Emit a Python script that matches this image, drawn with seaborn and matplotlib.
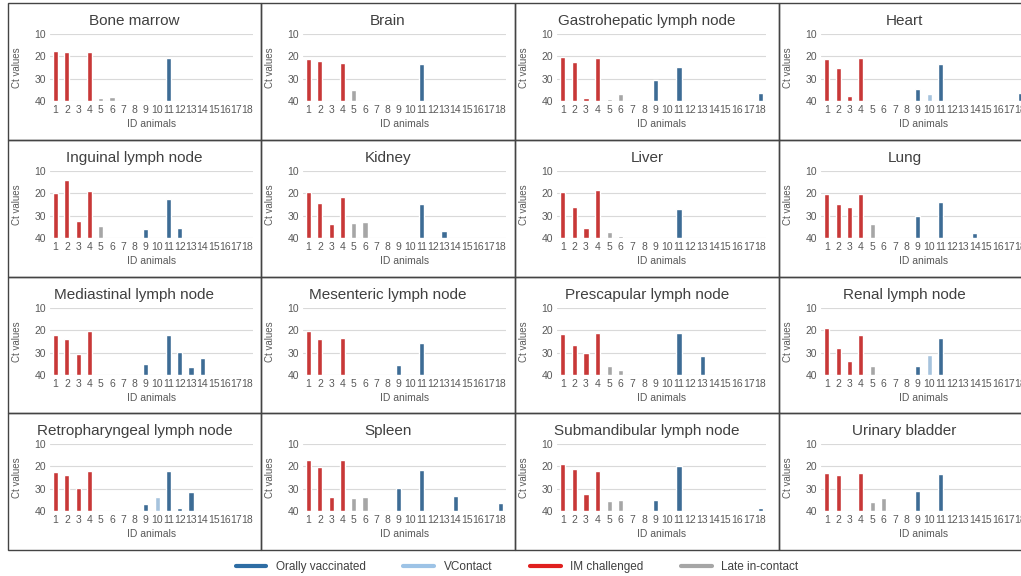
import seaborn as sns
import pandas as pd
import numpy as np
import matplotlib.pyplot as plt
from matplotlib.lines import Line2D
from matplotlib.patches import Rectangle

# data: Ct values per animal (None = no bar)
N = None
animals = [str(i) for i in range(1, 19)]
groups = (["IM challenged"] * 4 + ["Late in-contact"] * 4
          + ["Orally vaccinated", "VContact"] + ["Orally vaccinated"] * 8)

organs = ["Bone marrow", "Brain", "Gastrohepatic lymph node", "Heart",
          "Inguinal lymph node", "Kidney", "Liver", "Lung",
          "Mediastinal lymph node", "Mesenteric lymph node", "Prescapular lymph node", "Renal lymph node",
          "Retropharyngeal lymph node", "Spleen", "Submandibular lymph node", "Urinary bladder"]

bone_marrow = [17.5, 18.2, N, 18.0, 38.6, 38.0, N, N, N, N, 20.8, N, N, N, N, N, N, N]
brain = [21.2, 22.2, N, 22.8, 35.0, N, N, N, N, N, 23.3, N, N, N, N, N, N, N]
gastrohepatic = [20.5, 22.7, 38.8, 20.8, 39.0, 36.7, N, N, 30.4, N, 24.8, N, N, N, N, N, N, 36.2]
heart = [21.0, 25.3, 37.7, 20.6, N, N, N, N, 34.7, 36.7, 23.3, N, N, 39.4, N, N, N, 36.4]
inguinal = [19.7, 14.0, 32.5, 18.9, 34.7, N, N, N, 36.1, N, 22.7, 35.5, N, N, N, N, N, N]
kidney = [19.5, 24.3, 33.8, 21.5, 33.4, 32.9, N, N, N, N, 24.8, N, 36.9, N, N, N, N, N]
liver = [19.4, 25.9, 35.4, 18.4, 37.1, 39.0, N, N, N, N, 27.1, N, N, N, N, N, N, N]
lung = [20.2, 24.8, 25.9, 20.3, 33.9, N, N, N, 30.0, N, 24.1, N, N, 37.6, N, N, N, N]
mediastinal = [22.3, 23.8, 30.5, 20.2, N, N, N, N, 35.1, N, 22.0, 29.7, 36.2, 32.3, N, N, N, N]
mesenteric = [20.3, 24.0, N, 23.3, N, N, N, N, 35.3, N, 25.5, N, N, N, N, N, N, N]
prescapular = [21.8, 26.5, 30.0, 21.0, 35.8, 37.7, N, N, N, N, 21.0, N, 31.5, N, N, N, N, N]
renal = [19.1, 27.7, 33.9, 22.1, 35.8, N, N, N, 35.8, 30.9, 23.6, N, N, N, N, N, N, N]
retropharyngeal = [22.4, 23.8, 29.5, 22.0, N, N, N, N, 36.7, 33.8, 22.0, 38.5, 31.4, N, N, N, N, N]
spleen = [17.0, 20.5, 33.8, 17.0, 34.3, 33.8, N, N, 29.5, N, 21.8, 39.5, N, 33.3, N, N, N, 36.2]
submandibular = [19.0, 21.0, 32.4, 21.9, 35.7, 35.2, N, N, 35.2, N, 19.8, N, N, N, N, N, N, 38.6]
urinary_bladder = [23.0, 24.0, N, 23.0, 36.0, 34.0, N, N, 31.0, N, 23.5, N, N, N, N, N, N, N]

organ_values = [bone_marrow, brain, gastrohepatic, heart, inguinal, kidney, liver, lung,
                mediastinal, mesenteric, prescapular, renal,
                retropharyngeal, spleen, submandibular, urinary_bladder]

palette = {"Orally vaccinated": "#2e6da4", "VContact": "#9dc3e6",
           "IM challenged": "#e0201f", "Late in-contact": "#a6a6a6"}

sns.set_theme(style="white")
plt.rcParams['font.family'] = ['Liberation Sans', 'DejaVu Sans']

W, H = 1021, 576
fig = plt.figure(figsize=(W / 100, H / 100), dpi=100)

col_left = [8, 261, 515, 779]
col_right = [261, 515, 779, 1030]
row_top = [3, 140, 277, 413]
row_bot = [140, 277, 413, 550]
ax_w = [203, 203, 209, 205]

for k, (organ, vals) in enumerate(zip(organs, organ_values)):
    r, c = divmod(k, 4)
    # panel box
    fig.add_artist(Rectangle((col_left[c] / W, 1 - row_bot[r] / H),
                             (col_right[c] - col_left[c]) / W, (row_bot[r] - row_top[r]) / H,
                             fill=False, edgecolor="#444444", lw=1.0, transform=fig.transFigure))
    left = col_left[c] + 42
    top = row_top[r] + 31
    ax = fig.add_axes([left / W, 1 - (top + 67) / H, ax_w[c] / W, 67 / H])

    df = pd.DataFrame({"animal": animals, "ct": vals, "group": groups}).dropna()
    df["height"] = df["ct"] - 40
    sns.barplot(data=df, x="animal", y="height", hue="group", palette=palette,
                order=animals, width=0.45, bottom=40, legend=False, ax=ax)

    ax.set_ylim(40, 10)
    ax.set_yticks([10, 20, 30, 40])
    ax.yaxis.grid(True, color="#d9d9d9", lw=0.8)
    ax.set_axisbelow(True)
    for s in ax.spines.values():
        s.set_visible(False)
    ax.tick_params(axis="both", length=0, labelsize=7.5, labelcolor="#595959", pad=3)
    ax.set_xlabel("ID animals", fontsize=7.5, color="#595959", labelpad=3)
    ax.set_ylabel("Ct values", fontsize=7, color="#595959")
    ax.yaxis.set_label_coords(-28 / ax_w[c], 0.5)
    # title centred on the panel box
    cx = (col_left[c] + min(col_right[c], 1031)) / 2
    fig.text(cx / W, 1 - (row_top[r] + 18) / H, organ, ha="center", va="center",
             fontsize=11, color="#404040")

handles = [Line2D([0], [0], color=palette[g], lw=3) for g in palette]
fig.legend(handles, list(palette), loc="center", bbox_to_anchor=(517 / W, 1 - 567 / H),
           ncol=4, frameon=False, fontsize=8.5, handlelength=2.6, columnspacing=3.2,
           labelcolor="#404040")

fig.savefig("out.png", dpi=100)
